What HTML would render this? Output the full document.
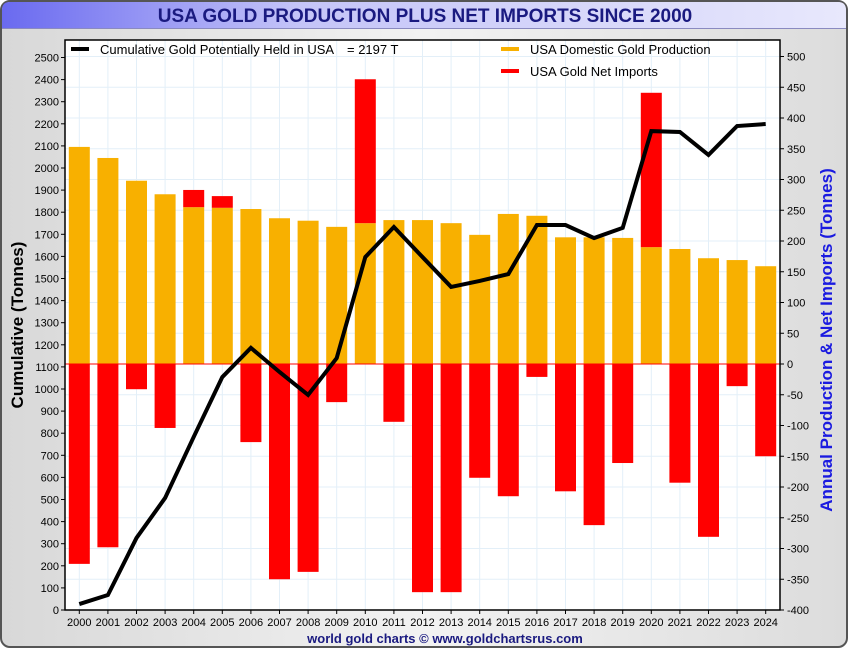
<!DOCTYPE html>
<html><head><meta charset="utf-8"><style>
body{margin:0;width:850px;height:650px;overflow:hidden;background:#fff;font-family:"Liberation Sans",sans-serif}
</style></head><body>
<svg id="c" width="850" height="650" xmlns="http://www.w3.org/2000/svg">
<defs>
<linearGradient id="bg" x1="0" y1="0" x2="1" y2="0"><stop offset="0" stop-color="#d8d8d8"/><stop offset="0.5" stop-color="#f2f2f2"/><stop offset="1" stop-color="#dcdcdc"/></linearGradient>
<linearGradient id="tb" x1="0" y1="0" x2="1" y2="0"><stop offset="0" stop-color="#6a6af0"/><stop offset="0.35" stop-color="#c4c4f8"/><stop offset="1" stop-color="#e8e8fc"/></linearGradient>
</defs>
<rect x="1" y="1" width="846" height="646" rx="9" fill="url(#bg)" stroke="#555" stroke-width="2"/>
<path d="M2 28 L2 10 Q2 2 10 2 L838 2 Q846 2 846 10 L846 28 Z" fill="url(#tb)"/>
<line x1="2" y1="28.5" x2="846" y2="28.5" stroke="#8a8ac0"/>
<text x="425" y="22" text-anchor="middle" font-size="19" font-weight="bold" fill="#1a1a80">USA GOLD PRODUCTION PLUS NET IMPORTS SINCE 2000</text>
<rect x="65" y="40" width="715" height="570" fill="#fff"/>
<g id="grid"></g><g id="bars"></g><g id="line"></g><g id="axes"></g>
<text x="445" y="643" text-anchor="middle" font-size="13" font-weight="bold" fill="#1a1a80">world gold charts © www.goldchartsrus.com</text>
<text transform="translate(23,325) rotate(-90)" text-anchor="middle" font-size="17" font-weight="bold" fill="#000">Cumulative (Tonnes)</text>
<text transform="translate(832,340) rotate(-90)" text-anchor="middle" font-size="17" font-weight="bold" fill="#1a1ae0">Annual Production &amp; Net Imports (Tonnes)</text>
<g>
<line x1="71" y1="49" x2="89" y2="49" stroke="#000" stroke-width="4"/>
<text x="100" y="54" font-size="13">Cumulative Gold Potentially Held in USA<tspan x="347">= 2197 T</tspan></text>
<line x1="501" y1="49" x2="519" y2="49" stroke="#f8b000" stroke-width="4"/>
<text x="530" y="54" font-size="13">USA Domestic Gold Production</text>
<line x1="501" y1="71" x2="519" y2="71" stroke="#ff0000" stroke-width="4"/>
<text x="530" y="76" font-size="13">USA Gold Net Imports</text>
</g>
</svg>
<script>
const years=[2000,2001,2002,2003,2004,2005,2006,2007,2008,2009,2010,2011,2012,2013,2014,2015,2016,2017,2018,2019,2020,2021,2022,2023,2024];
const production=[353,335,298,276,255,254,252,237,233,223,229,234,234,229,210,244,241,206,206,205,190,187,172,169,159];
const netImports=[-325,-298,-41,-104,28,19,-127,-350,-338,-62,234,-94,-371,-371,-185,-215,-21,-207,-262,-161,251,-193,-281,-36,-150];
const cumulative=[27,68,326,507,783,1054,1186,1077,973,1140,1597,1733,1597,1462,1489,1520,1742,1742,1683,1729,2167,2163,2059,2190,2199];
const leftTicks=[0,100,200,300,400,500,600,700,800,900,1000,1100,1200,1300,1400,1500,1600,1700,1800,1900,2000,2100,2200,2300,2400,2500];
const rightTicks=[-400,-350,-300,-250,-200,-150,-100,-50,0,50,100,150,200,250,300,350,400,450,500];
const NS="http://www.w3.org/2000/svg";
const L=65,R=780,T=40,B=610;
const bw=(R-L)/years.length;
const x=i=>L+bw*(i+0.5);
const yL=v=>B-(v/2500)*(B-57.5);
const yR=v=>364-(v/400)*(B-364);
function mk(p,tag,a){const e=document.createElementNS(NS,tag);for(const k in a)e.setAttribute(k,a[k]);p.appendChild(e);return e;}
const grid=document.getElementById('grid'),bars=document.getElementById('bars'),line=document.getElementById('line'),axes=document.getElementById('axes');
years.forEach((y,i)=>{const g=mk(grid,'line',{x1:x(i),x2:x(i),y1:T,y2:B,stroke:'#e3eff8'});

});
rightTicks.forEach(v=>{const g=mk(grid,'line',{x1:L,x2:R,y1:yR(v),y2:yR(v),stroke:'#e3eff8'});

});
const w=21;
years.forEach((y,i)=>{
 const p=mk(bars,'rect',{x:x(i)-w/2,y:yR(production[i]),width:w,height:yR(0)-yR(production[i]),fill:'#f8b000'});
 
 
 const n=netImports[i];let r;
 if(n>=0) r=mk(bars,'rect',{x:x(i)-w/2,y:yR(production[i]+n),width:w,height:yR(production[i])-yR(production[i]+n),fill:'#ff0000'});
 else r=mk(bars,'rect',{x:x(i)-w/2,y:yR(0),width:w,height:yR(n)-yR(0),fill:'#ff0000'});
 
 
});
const z=mk(bars,'line',{x1:L,x2:R,y1:yR(0),y2:yR(0),stroke:'#ff0000','stroke-width':1});


const pl=mk(line,'polyline',{points:cumulative.map((v,i)=>x(i)+','+yL(v)).join(' '),fill:'none',stroke:'#000','stroke-width':4,'stroke-linejoin':'miter'});


mk(axes,'rect',{x:L,y:T,width:R-L,height:B-T,fill:'none',stroke:'#000','stroke-width':1.5});
leftTicks.forEach(v=>{mk(axes,'line',{x1:L-4,x2:L,y1:yL(v),y2:yL(v),stroke:'#000'});
 const t=mk(axes,'text',{x:L-6,y:yL(v)+4,'text-anchor':'end','font-size':11});t.textContent=v;
 
 });
rightTicks.forEach(v=>{mk(axes,'line',{x1:R,x2:R+4,y1:yR(v),y2:yR(v),stroke:'#000'});
 const t=mk(axes,'text',{x:R+7,y:yR(v)+4,'font-size':11});t.textContent=v;
 
 });
years.forEach((y,i)=>{mk(axes,'line',{x1:x(i),x2:x(i),y1:B,y2:B+4,stroke:'#000'});
 const t=mk(axes,'text',{x:x(i),y:B+16,'text-anchor':'middle','font-size':11});t.textContent=y;
 
 });
</script>
</body></html>
